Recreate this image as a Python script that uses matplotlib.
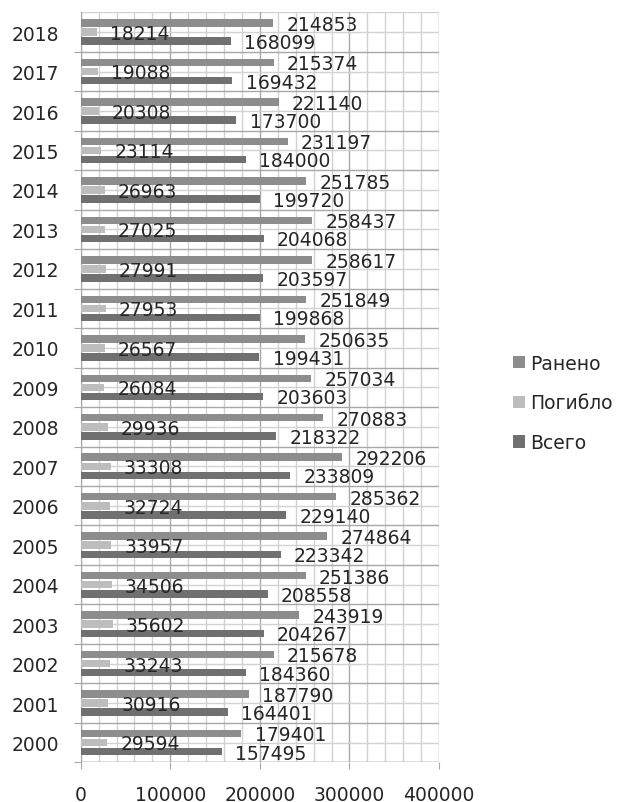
import matplotlib.pyplot as plt
import numpy as np
from matplotlib.ticker import MultipleLocator

years = list(range(2000, 2019))
total = [157495, 164401, 184360, 204267, 208558, 223342, 229140, 233809, 218322,
         203603, 199431, 199868, 203597, 204068, 199720, 184000, 173700, 169432, 168099]
killed = [29594, 30916, 33243, 35602, 34506, 33957, 32724, 33308, 29936,
          26084, 26567, 27953, 27991, 27025, 26963, 23114, 20308, 19088, 18214]
injured = [179401, 187790, 215678, 243919, 251386, 274864, 285362, 292206, 270883,
           257034, 250635, 251849, 258617, 258437, 251785, 231197, 221140, 215374, 214853]

plt.rcParams['font.family'] = ['DejaVu Sans']
FS = 13.5
TXT = '#262626'

fig = plt.figure(figsize=(6.18, 8.03), dpi=100)
ax = fig.add_axes([0.1306, 0.0494, 0.5798, 0.934])

y = np.arange(len(years))
h = 0.19
step = 0.23
series = [
    (total, 'Всего', '#707070', -step),
    (killed, 'Погибло', '#bdbdbd', 0),
    (injured, 'Ранено', '#8d8d8d', step),
]
for vals, name, col, off in series:
    bars = ax.barh(y + off, vals, height=h, color=col, label=name, zorder=3)
    for b, v in zip(bars, vals):
        ax.annotate(str(v), (b.get_width(), b.get_y() + b.get_height() / 2),
                    xytext=(9.5, -1), textcoords='offset points',
                    ha='left', va='center', fontsize=FS, color=TXT, zorder=4)

ax.set_xlim(0, 400000)
ax.set_ylim(-0.5, len(years) - 0.5)
ax.xaxis.set_minor_locator(MultipleLocator(20000))
ax.set_xticks([0, 100000, 200000, 300000, 400000],
              labels=['0', '100000', '200000', '300000', '400000'])
ax.set_yticks(y - 0.5, labels=[''] * len(years))
ax.set_yticks(y, labels=[str(v) for v in years], minor=True)

ax.grid(True, which='major', axis='x', color='#a8a8a8', lw=1, zorder=0)
ax.grid(True, which='minor', axis='x', color='#d2d2d2', lw=1, zorder=0)
ax.grid(True, which='major', axis='y', color='#a8a8a8', lw=1, zorder=0)
ax.grid(True, which='minor', axis='y', color='#d2d2d2', lw=1, zorder=0)

for s in ['top', 'right', 'bottom']:
    ax.spines[s].set_visible(False)
ax.spines['left'].set_color('#a8a8a8')
ax.axhline(len(years) - 0.5, color='#d2d2d2', lw=1, zorder=0)
ax.axhline(-0.5, color='#a8a8a8', lw=1, zorder=2)

ax.tick_params(axis='y', which='major', length=5.3, color='#a8a8a8')
ax.tick_params(axis='y', which='minor', length=0, pad=15.8, labelsize=FS, labelcolor=TXT)
ax.tick_params(axis='x', which='major', length=5, color='#a8a8a8', pad=11,
               labelsize=FS, labelcolor=TXT)
ax.tick_params(axis='x', which='minor', length=0)

handles, labels = ax.get_legend_handles_labels()
fig.legend(handles[::-1], labels[::-1], loc='center left', bbox_to_anchor=(513 / 618, 0.497),
           frameon=False, fontsize=FS, handlelength=0.64, handleheight=0.64,
           handletextpad=0.3, labelspacing=1.1, borderpad=0, borderaxespad=0,
           labelcolor=TXT)

plt.savefig('out.png', dpi=100)
